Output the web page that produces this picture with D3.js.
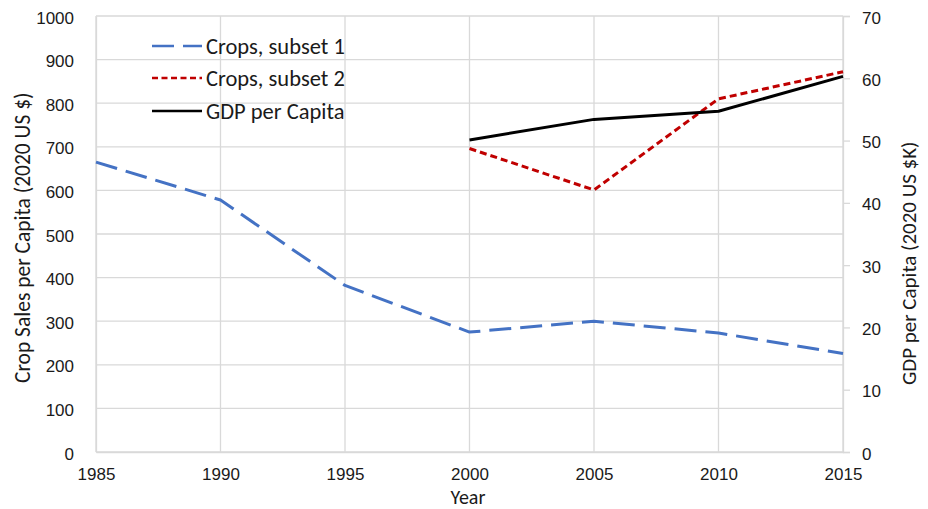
<!DOCTYPE html>
<html>
<head>
<meta charset="utf-8">
<script src="https://cdn.jsdelivr.net/npm/d3@7"></script>
<style>
  html, body { margin: 0; padding: 0; background: #fff; }
  svg { display: block; font-family: Calibri, Carlito, "Open Sans", sans-serif; }
</style>
</head>
<body>
<svg id="chart" width="928" height="509"></svg>
<script>
// Years on the x axis
const years = [1985, 1990, 1995, 2000, 2005, 2010, 2015];
// Crop sales per capita (2020 US $)
const cropsSubset1 = [665, 578, 382, 275, 300, 273, 226];
const cropsSubset2 = [null, null, null, 696, 601, 810, 872];
// GDP per capita (2020 US $K)
const gdpPerCapita = [null, null, null, 50.1, 53.4, 54.7, 60.3];
// Axis ticks
const leftTicks = [0, 100, 200, 300, 400, 500, 600, 700, 800, 900, 1000];
const rightTicks = [0, 10, 20, 30, 40, 50, 60, 70];

const series = [
  { name: "Crops, subset 1", values: cropsSubset1, axis: "left", color: "#4472C4", dash: "22,9", legendDash: "22,9" },
  { name: "Crops, subset 2", values: cropsSubset2, axis: "left", color: "#C00000", dash: "7,4", legendDash: "6,3.5" },
  { name: "GDP per Capita", values: gdpPerCapita, axis: "right", color: "#000000", dash: null, legendDash: null }
];

const svg = d3.select("#chart");
const m = { left: 96, right: 843, top: 16, bottom: 452 };
const grid = "#d9d9d9";
const textColor = "#1a1a1a";

const x = d3.scaleLinear().domain([1985, 2015]).range([m.left, m.right]);
const yL = d3.scaleLinear().domain([0, 1000]).range([m.bottom, m.top]);
const yR = d3.scaleLinear().domain([0, 70]).range([m.bottom, m.top]);

// Horizontal gridlines
svg.append("g").selectAll("line").data(leftTicks).join("line")
  .attr("x1", m.left).attr("x2", m.right)
  .attr("y1", d => yL(d)).attr("y2", d => yL(d))
  .attr("stroke", grid).attr("stroke-width", 1.3);

// Vertical gridlines
svg.append("g").selectAll("line").data(years).join("line")
  .attr("x1", d => x(d)).attr("x2", d => x(d))
  .attr("y1", m.top).attr("y2", m.bottom)
  .attr("stroke", grid).attr("stroke-width", 1.3);

// Left axis
const gL = svg.append("g").attr("transform", `translate(${m.left},0)`)
  .call(d3.axisLeft(yL).tickValues(leftTicks).tickSize(0).tickPadding(22).tickFormat(d3.format("d")));
gL.select(".domain").attr("stroke", grid).attr("stroke-width", 1.3);
gL.selectAll("text").attr("font-size", 17).attr("fill", textColor).attr("font-family", null).attr("dy", "0.42em");

// Right axis
const gR = svg.append("g").attr("transform", `translate(${m.right},0)`)
  .call(d3.axisRight(yR).tickValues(rightTicks).tickSize(7).tickPadding(12).tickFormat(d3.format("d")));
gR.select(".domain").attr("stroke", grid).attr("stroke-width", 1.3);
gR.selectAll(".tick line").attr("stroke", grid).attr("stroke-width", 1.3);
gR.selectAll("text").attr("font-size", 17).attr("fill", textColor).attr("font-family", null).attr("dy", "0.42em");

// Bottom axis
const gB = svg.append("g").attr("transform", `translate(0,${m.bottom})`)
  .call(d3.axisBottom(x).tickValues(years).tickSize(0).tickPadding(17).tickFormat(d3.format("d")));
gB.select(".domain").attr("stroke", grid).attr("stroke-width", 1.3);
gB.selectAll("text").attr("font-size", 17).attr("fill", textColor).attr("font-family", null).attr("dy", "0.66em");

// Axis titles
svg.append("text").attr("x", 468).attr("y", 504).attr("text-anchor", "middle")
  .attr("font-size", 20).attr("fill", textColor).text("Year");
svg.append("text").attr("transform", "translate(30,383) rotate(-90)").attr("text-anchor", "start")
  .attr("font-size", 21.5).attr("fill", textColor).text("Crop Sales per Capita (2020 US $)");
svg.append("text").attr("transform", "translate(916,385) rotate(-90)").attr("text-anchor", "start")
  .attr("font-size", 21).attr("fill", textColor).text("GDP per Capita (2020 US $K)");

// Series lines
series.forEach(s => {
  const y = s.axis === "left" ? yL : yR;
  const pts = years.map((yr, i) => ({ yr, v: s.values[i] })).filter(p => p.v !== null);
  const line = d3.line().x(p => x(p.yr)).y(p => y(p.v));
  svg.append("path").datum(pts)
    .attr("d", line)
    .attr("fill", "none")
    .attr("stroke", s.color)
    .attr("stroke-width", 3)
    .attr("stroke-linejoin", "round")
    .attr("stroke-dasharray", s.dash);
});

// Legend
const legend = svg.append("g");
const rowY = [46, 78, 111];
series.forEach((s, i) => {
  legend.append("line")
    .attr("x1", 152).attr("x2", 202)
    .attr("y1", rowY[i]).attr("y2", rowY[i])
    .attr("stroke", s.color).attr("stroke-width", 2.6)
    .attr("stroke-dasharray", s.legendDash);
  legend.append("text")
    .attr("x", 206).attr("y", rowY[i]).attr("dy", "0.35em")
    .attr("font-size", 22.5).attr("fill", textColor).text(s.name);
});
</script>
</body>
</html>
